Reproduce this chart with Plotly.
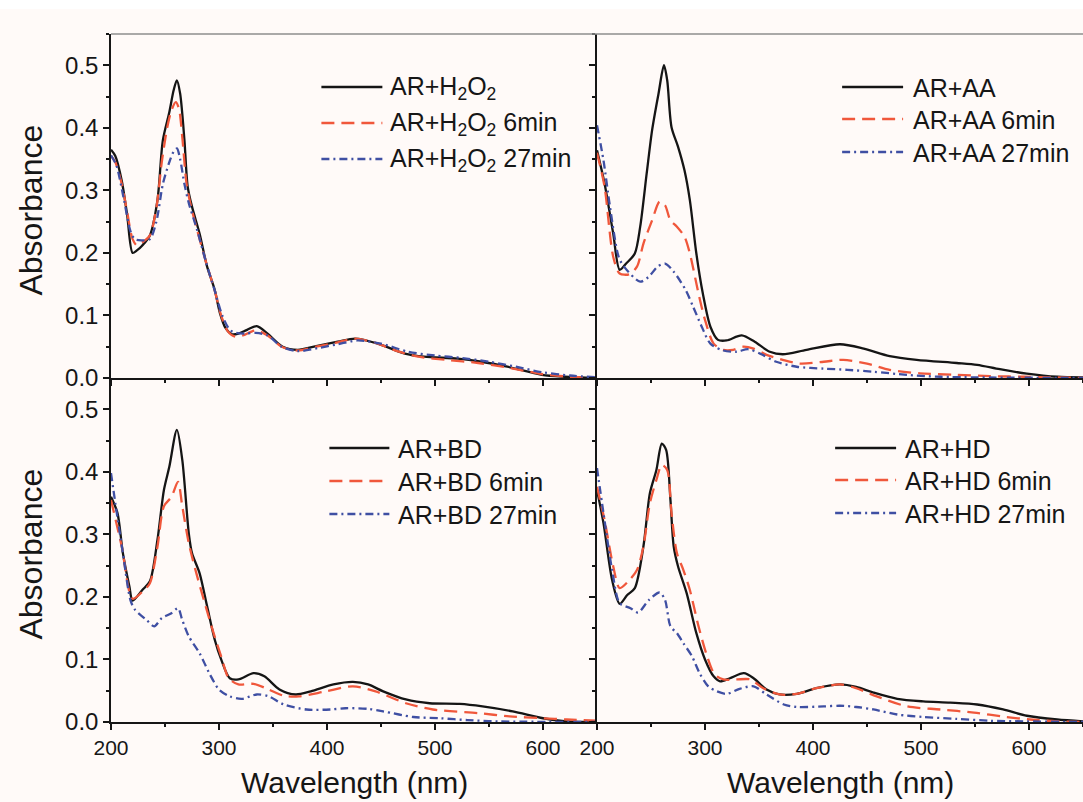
import plotly.graph_objects as go
from plotly.subplots import make_subplots

# ---- UV-Vis spectra: wavelength (nm) and absorbance per sample ----
# AR + H2O2
wl_h2o2_0 = [200, 204, 210, 215, 220, 224, 229, 236, 243, 248, 254, 258, 261, 264, 268, 271, 275, 282, 289, 296,
             301, 306, 312, 318, 326, 335, 345, 359, 373, 390, 410, 426, 447, 472, 490, 521, 543, 567, 599, 620, 650]
ab_h2o2_0 = [0.365, 0.355, 0.315, 0.26, 0.2, 0.204, 0.212, 0.228, 0.284, 0.38, 0.425, 0.46, 0.476, 0.455, 0.38, 0.306,
             0.274, 0.231, 0.178, 0.141, 0.103, 0.08, 0.07, 0.071, 0.077, 0.083, 0.071, 0.05, 0.045, 0.051, 0.058,
             0.063, 0.055, 0.039, 0.034, 0.031, 0.026, 0.018, 0.005, 0.002, 0.0]
wl_h2o2_6 = [200, 204, 210, 215, 220, 224, 230, 236, 242, 247, 252, 256, 260, 263, 266, 270, 274, 280, 288, 296,
             302, 308, 315, 322, 334, 345, 358, 373, 390, 410, 426, 445, 465, 485, 510, 540, 570, 600, 625, 650]
ab_h2o2_6 = [0.355, 0.345, 0.31, 0.265, 0.222, 0.212, 0.218, 0.228, 0.272, 0.345, 0.4, 0.428, 0.441, 0.43, 0.385,
             0.31, 0.275, 0.235, 0.185, 0.14, 0.1, 0.075, 0.066, 0.068, 0.076, 0.068, 0.05, 0.044, 0.05, 0.057,
             0.063, 0.056, 0.043, 0.034, 0.029, 0.024, 0.016, 0.006, 0.002, 0.0]
wl_h2o2_27 = [200, 205, 212, 218, 222, 228, 236, 242, 248, 254, 258, 261, 264, 268, 272, 280, 288, 296, 303, 310,
              316, 324, 334, 345, 358, 373, 392, 410, 428, 450, 475, 500, 525, 550, 575, 600, 625, 650]
ab_h2o2_27 = [0.356, 0.34, 0.285, 0.235, 0.222, 0.22, 0.222, 0.25, 0.31, 0.345, 0.362, 0.367, 0.35, 0.31, 0.28,
              0.235, 0.185, 0.14, 0.1, 0.077, 0.072, 0.071, 0.072, 0.068, 0.05, 0.043, 0.048, 0.054, 0.06, 0.055,
              0.042, 0.036, 0.032, 0.026, 0.018, 0.009, 0.004, 0.001]

# AR + AA
wl_aa_0 = [200, 207, 215, 221, 227, 235, 240, 246, 251, 257, 262, 265, 269, 275, 281, 286, 292, 298, 305, 312,
           320, 334, 346, 360, 372, 394, 425, 447, 471, 496, 533, 552, 573, 598, 626, 650]
ab_aa_0 = [0.364, 0.311, 0.231, 0.173, 0.183, 0.199, 0.242, 0.327, 0.396, 0.455, 0.5, 0.476, 0.401, 0.37, 0.332,
           0.284, 0.199, 0.135, 0.082, 0.061, 0.06, 0.068, 0.058, 0.042, 0.038, 0.045, 0.054, 0.047, 0.035, 0.029,
           0.024, 0.021, 0.014, 0.007, 0.002, 0.001]
wl_aa_6 = [200, 207, 215, 221, 230, 237, 243, 251, 258, 263, 268, 274, 281, 286, 294, 300, 308, 317, 326, 335,
           345, 357, 372, 388, 410, 428, 450, 471, 499, 533, 564, 595, 650]
ab_aa_6 = [0.36, 0.306, 0.194, 0.167, 0.166, 0.178, 0.215, 0.252, 0.282, 0.276, 0.252, 0.242, 0.226, 0.199, 0.135,
           0.093, 0.055, 0.045, 0.045, 0.05, 0.047, 0.037, 0.029, 0.023, 0.026, 0.029, 0.023, 0.013, 0.0075, 0.005,
           0.003, 0.002, 0.0]
wl_aa_27 = [200, 206, 212, 220, 225, 240, 248, 256, 263, 271, 282, 289, 297, 305, 317, 329, 340, 351, 366, 385,
            410, 432, 456, 487, 518, 650]
ab_aa_27 = [0.404, 0.348, 0.274, 0.194, 0.178, 0.154, 0.162, 0.178, 0.183, 0.17, 0.141, 0.114, 0.082, 0.055,
            0.044, 0.042, 0.046, 0.039, 0.026, 0.018, 0.015, 0.013, 0.01, 0.005, 0.002, 0.0]

# AR + BD
wl_bd_0 = [200, 206, 211, 217, 220, 229, 236, 243, 249, 254, 261, 266, 272, 275, 282, 289, 296, 302, 310, 318,
           332, 342, 356, 371, 385, 406, 424, 438, 452, 473, 495, 523, 544, 572, 600, 622, 650]
ab_bd_0 = [0.36, 0.334, 0.27, 0.217, 0.194, 0.211, 0.225, 0.291, 0.371, 0.408, 0.467, 0.419, 0.302, 0.27, 0.238,
           0.185, 0.132, 0.1, 0.07, 0.068, 0.078, 0.073, 0.052, 0.044, 0.049, 0.06, 0.064, 0.06, 0.049, 0.036,
           0.03, 0.029, 0.025, 0.017, 0.006, 0.001, 0.0]
wl_bd_6 = [200, 210, 220, 230, 236, 243, 249, 256, 262, 266, 272, 279, 286, 295, 302, 309, 318, 332, 346, 360,
           374, 399, 424, 445, 473, 498, 541, 569, 600, 622, 650]
ab_bd_6 = [0.355, 0.28, 0.197, 0.21, 0.222, 0.28, 0.345, 0.36, 0.384, 0.345, 0.286, 0.238, 0.195, 0.142, 0.105,
           0.07, 0.06, 0.061, 0.052, 0.042, 0.041, 0.049, 0.057, 0.049, 0.03, 0.02, 0.014, 0.009, 0.006, 0.004,
           0.002]
wl_bd_27 = [200, 204, 211, 218, 222, 233, 240, 247, 256, 262, 266, 272, 282, 291, 300, 310, 321, 335, 346, 360,
            381, 403, 417, 438, 452, 480, 505, 530, 558, 650]
ab_bd_27 = [0.398, 0.35, 0.27, 0.195, 0.18, 0.163, 0.153, 0.166, 0.174, 0.182, 0.163, 0.137, 0.11, 0.078, 0.052,
            0.041, 0.037, 0.044, 0.041, 0.028, 0.02, 0.02, 0.022, 0.021, 0.017, 0.008, 0.006, 0.003, 0.001, 0.0]

# AR + HD
wl_hd_0 = [200, 206, 214, 221, 228, 235, 243, 249, 255, 260, 264, 268, 271, 275, 283, 292, 300, 308, 314, 323,
           336, 345, 357, 369, 385, 403, 425, 440, 456, 478, 502, 527, 552, 576, 598, 626, 650]
ab_hd_0 = [0.371, 0.318, 0.227, 0.189, 0.203, 0.214, 0.281, 0.366, 0.403, 0.445, 0.435, 0.355, 0.281, 0.249,
           0.206, 0.142, 0.1, 0.073, 0.065, 0.07, 0.078, 0.07, 0.052, 0.044, 0.045, 0.054, 0.06, 0.056, 0.047,
           0.037, 0.033, 0.031, 0.028, 0.02, 0.01, 0.004, 0.001]
wl_hd_6 = [200, 207, 215, 221, 229, 237, 243, 249, 255, 260, 265, 269, 274, 280, 286, 294, 302, 309, 317, 329,
           342, 354, 369, 385, 403, 425, 440, 459, 487, 518, 549, 579, 601, 626, 650]
ab_hd_6 = [0.376, 0.323, 0.249, 0.214, 0.225, 0.243, 0.281, 0.35, 0.387, 0.411, 0.403, 0.334, 0.27, 0.243, 0.211,
           0.153, 0.105, 0.076, 0.068, 0.068, 0.068, 0.054, 0.044, 0.045, 0.054, 0.06, 0.054, 0.041, 0.025, 0.02,
           0.015, 0.008, 0.004, 0.001, 0.0]
wl_hd_27 = [200, 206, 214, 221, 231, 238, 248, 258, 263, 268, 274, 280, 288, 295, 303, 311, 320, 332, 345, 357,
            373, 385, 410, 425, 440, 456, 478, 502, 533, 564, 595, 650]
ab_hd_27 = [0.406, 0.334, 0.243, 0.19, 0.182, 0.175, 0.195, 0.207, 0.195, 0.153, 0.142, 0.126, 0.105, 0.078,
            0.057, 0.049, 0.045, 0.053, 0.057, 0.044, 0.028, 0.024, 0.025, 0.026, 0.024, 0.02, 0.012, 0.008, 0.005,
            0.002, 0.001, 0.0]

panel_labels = [
    ["AR+H<sub>2</sub>O<sub>2</sub>", "AR+H<sub>2</sub>O<sub>2</sub> 6min", "AR+H<sub>2</sub>O<sub>2</sub> 27min"],
    ["AR+AA", "AR+AA 6min", "AR+AA 27min"],
    ["AR+BD", "AR+BD 6min", "AR+BD 27min"],
    ["AR+HD", "AR+HD 6min", "AR+HD 27min"],
]
panel_series = [
    [(wl_h2o2_0, ab_h2o2_0), (wl_h2o2_6, ab_h2o2_6), (wl_h2o2_27, ab_h2o2_27)],
    [(wl_aa_0, ab_aa_0), (wl_aa_6, ab_aa_6), (wl_aa_27, ab_aa_27)],
    [(wl_bd_0, ab_bd_0), (wl_bd_6, ab_bd_6), (wl_bd_27, ab_bd_27)],
    [(wl_hd_0, ab_hd_0), (wl_hd_6, ab_hd_6), (wl_hd_27, ab_hd_27)],
]

FONT = "Liberation Sans, Arial, sans-serif"
INK = "#161616"
BG = "#fffaf8"
line_styles = [
    dict(color="#151515", width=2.3, dash="solid"),
    dict(color="#f0573b", width=2.3, dash="13px,7px"),
    dict(color="#3f4fa3", width=2.3, dash="8px,4px,2px,4px"),
]

# pixel geometry of the plotting area
W, H = 1083, 802
ML, MT, MB = 110.5, 34, 80
PW, PH = W - ML, H - MT - MB


def px(x):
    return (x - ML) / PW


def py(y):
    return (H - MB - y) / PH


fig = make_subplots(rows=2, cols=2, horizontal_spacing=0, vertical_spacing=0)

for i, series in enumerate(panel_series):
    r, c = i // 2 + 1, i % 2 + 1
    for j, (wl, ab) in enumerate(series):
        fig.add_trace(
            go.Scatter(x=wl, y=ab, mode="lines", name=panel_labels[i][j], showlegend=False,
                       line=dict(shape="spline", smoothing=0.8, **line_styles[j])),
            row=r, col=c,
        )

x_tick_font = dict(family=FONT, size=21, color=INK)
y_tick_font = dict(family=FONT, size=24, color=INK)

for r in (1, 2):
    for c in (1, 2):
        fig.update_xaxes(
            range=[200, 650], tick0=200, dtick=100, showline=True, linecolor=INK, linewidth=1.5,
            ticks="outside", ticklen=6, tickwidth=1.5, tickcolor=INK, showgrid=False, zeroline=False,
            minor=dict(tick0=200, dtick=50, ticks="outside", ticklen=3.5, tickwidth=1.5, tickcolor=INK),
            showticklabels=(r == 2), tickfont=x_tick_font,
            row=r, col=c,
        )
        fig.update_yaxes(
            range=[0, 0.55], tick0=0, dtick=0.1, tickformat=".1f", showline=True, linecolor=INK,
            linewidth=1.5, ticks="outside", ticklen=6, tickwidth=1.5, tickcolor=INK, showgrid=False,
            zeroline=False,
            minor=dict(tick0=0, dtick=0.05, ticks="outside", ticklen=3.5, tickwidth=1.5, tickcolor=INK),
            showticklabels=(c == 1), tickfont=y_tick_font,
            row=r, col=c,
        )

shapes = [
    # white strip above the figure background
    dict(type="rect", xref="paper", yref="paper", x0=-0.2, x1=1.1, y0=py(9), y1=py(-5),
         fillcolor="white", line=dict(width=0), layer="below"),
    # grey frame line along the top
    dict(type="line", xref="paper", yref="paper", x0=0, x1=1, y0=1, y1=1,
         line=dict(color="#8e8e8e", width=1.5)),
]
annotations = []

# legend blocks: (sample line x0, x1, text x, row y positions)
legend_layout = [
    (321, 382, 388, [87, 123, 159]),
    (842, 903, 911, [87, 119, 152]),
    (329, 389, 396, [448, 481, 514]),
    (835, 896, 903, [448, 480, 513]),
]
for i, (lx0, lx1, tx, rows) in enumerate(legend_layout):
    for j, yy in enumerate(rows):
        st = line_styles[j]
        shapes.append(dict(type="line", xref="paper", yref="paper", x0=px(lx0), x1=px(lx1), y0=py(yy),
                           y1=py(yy), line=dict(color=st["color"], width=st["width"], dash=st["dash"])))
        annotations.append(dict(xref="paper", yref="paper", x=px(tx), y=py(yy + 1), xanchor="left",
                                yanchor="middle", text=panel_labels[i][j], showarrow=False,
                                font=dict(family=FONT, size=25, color=INK)))

# axis titles
for yc in (210, 554):
    annotations.append(dict(xref="paper", yref="paper", x=px(30), y=py(yc), xanchor="center",
                            yanchor="middle", text="Absorbance", textangle=-90, showarrow=False,
                            font=dict(family=FONT, size=32, color=INK)))
for xc in (0.25, 0.75):
    annotations.append(dict(xref="paper", yref="paper", x=xc, y=py(782), xanchor="center",
                            yanchor="middle", text="Wavelength (nm)", showarrow=False,
                            font=dict(family=FONT, size=30, color=INK)))

fig.update_layout(
    width=W, height=H,
    margin=dict(l=ML, r=0, t=MT, b=MB, pad=0),
    paper_bgcolor=BG, plot_bgcolor=BG,
    showlegend=False,
    shapes=shapes, annotations=annotations,
    font=dict(family=FONT, size=24, color=INK),
)

fig.write_html("out.html")
